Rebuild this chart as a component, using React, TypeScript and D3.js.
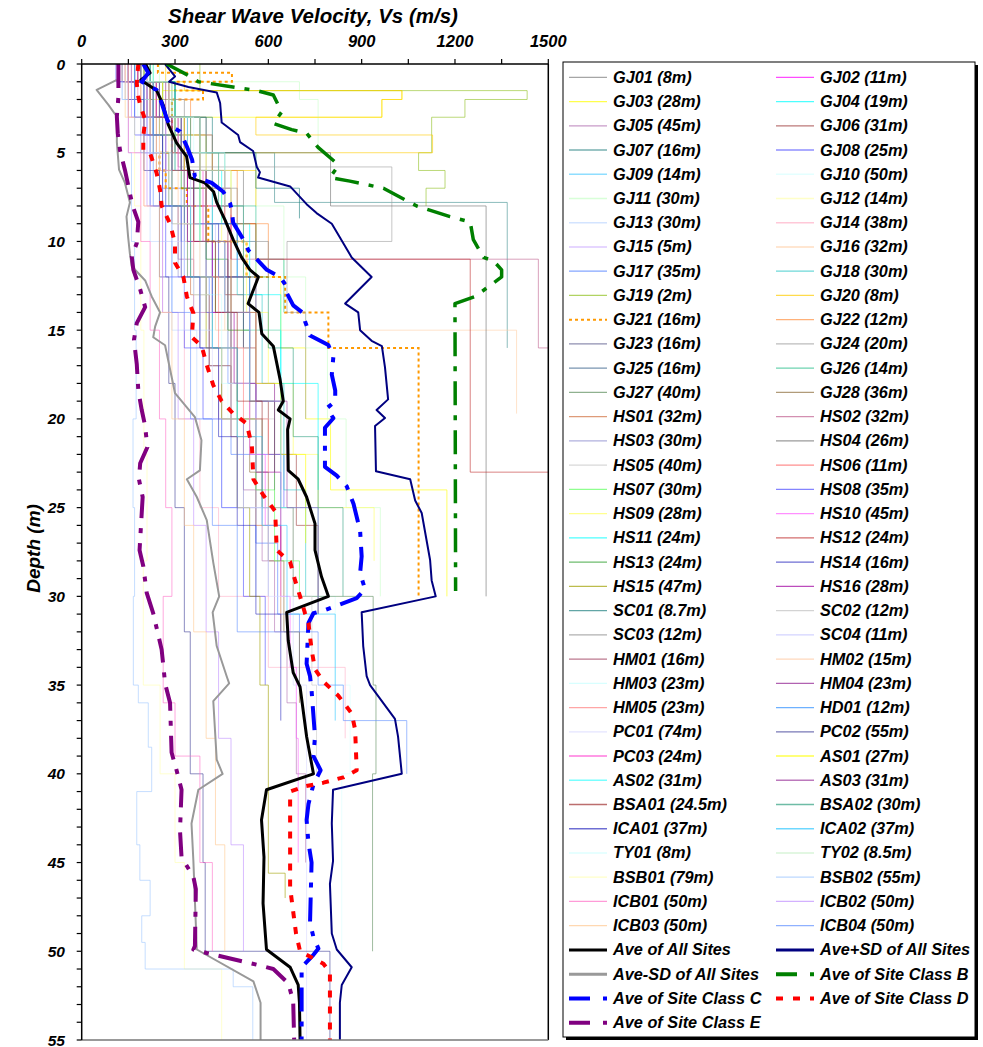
import React from "react";
import * as d3 from "d3";

// site names, in legend order (row by row, left column then right column)
const siteNames = [
  "GJ01 (8m)", "GJ02 (11m)", "GJ03 (28m)", "GJ04 (19m)", "GJ05 (45m)", "GJ06 (31m)",
  "GJ07 (16m)", "GJ08 (25m)", "GJ09 (14m)", "GJ10 (50m)", "GJ11 (30m)", "GJ12 (14m)",
  "GJ13 (30m)", "GJ14 (38m)", "GJ15 (5m)", "GJ16 (32m)", "GJ17 (35m)", "GJ18 (30m)",
  "GJ19 (2m)", "GJ20 (8m)", "GJ21 (16m)", "GJ22 (12m)", "GJ23 (16m)", "GJ24 (20m)",
  "GJ25 (16m)", "GJ26 (14m)", "GJ27 (40m)", "GJ28 (36m)", "HS01 (32m)", "HS02 (32m)",
  "HS03 (30m)", "HS04 (26m)", "HS05 (40m)", "HS06 (11m)", "HS07 (30m)", "HS08 (35m)",
  "HS09 (28m)", "HS10 (45m)", "HS11 (24m)", "HS12 (24m)", "HS13 (24m)", "HS14 (16m)",
  "HS15 (47m)", "HS16 (28m)", "SC01 (8.7m)", "SC02 (12m)", "SC03 (12m)", "SC04 (11m)",
  "HM01 (16m)", "HM02 (15m)", "HM03 (23m)", "HM04 (23m)", "HM05 (23m)", "HD01 (12m)",
  "PC01 (74m)", "PC02 (55m)", "PC03 (24m)", "AS01 (27m)", "AS02 (31m)", "AS03 (31m)",
  "BSA01 (24.5m)", "BSA02 (30m)", "ICA01 (37m)", "ICA02 (37m)", "TY01 (8m)", "TY02 (8.5m)",
  "BSB01 (79m)", "BSB02 (55m)", "ICB01 (50m)", "ICB02 (50m)", "ICB03 (50m)", "ICB04 (50m)",
];

const siteColors = [
  "#808080", "#ff00ff", "#ffff00", "#00ffff", "#b070b0", "#a04040",
  "#409090", "#6060ff", "#60d0ff", "#d8ffff", "#c8ffc8", "#ffffb0",
  "#c0d8ff", "#ffb0c8", "#d0b0ff", "#ffd0a8", "#5080ff", "#30c8c8",
  "#90c020", "#ffcc00", "#ff9900", "#ff9040", "#606090", "#a0a0a0",
  "#406890", "#30c090", "#609060", "#907040", "#d07040", "#c06090",
  "#9090d0", "#707070", "#c8c8c8", "#ff6060", "#60ff60", "#5050ff",
  "#ffff60", "#ff60ff", "#00ffff", "#c03030", "#30a030", "#3030c0",
  "#a0a000", "#a000a0", "#208080", "#c0c0c0", "#909090", "#c0c0ff",
  "#a04060", "#ffc8a0", "#c8ffff", "#902090", "#ff8080", "#3090ff",
  "#d8d8ff", "#404098", "#ff40d0", "#ffff00", "#40ffff", "#a040a0",
  "#a03030", "#30a080", "#3030c0", "#30c8ff", "#d0ffff", "#c8f0c8",
  "#ffffb0", "#a0c8ff", "#ff70c8", "#c090ff", "#ffc890", "#6090ff",
];

// each profile: [bottom depth (m), Vs (m/s)] per layer
const siteProfiles: number[][][] = [
  [[1, 160], [2, 220], [3, 260], [5, 300], [6, 420], [8, 520]],
  [[1, 140], [2, 180], [4, 230], [6, 290], [8, 340], [11, 480]],
  [[1, 190], [1.5, 260], [2, 1030], [3, 965], [4, 330], [6, 400], [9, 480], [12, 560], [16, 640], [20, 720], [24, 800], [28, 1174], [30, 1174]],
  [[2, 170], [4, 230], [6, 290], [9, 360], [12, 420], [15, 520], [19, 640]],
  [[1, 130], [3, 170], [5, 220], [8, 270], [11, 310], [14, 360], [17, 410], [20, 440], [24, 520], [28, 580], [32, 620], [36, 660], [40, 690], [45, 720]],
  [[1, 180], [3, 240], [5, 300], [7, 340], [10, 400], [13, 460], [16, 520], [19, 560], [22, 600], [26, 690], [31, 760]],
  [[1, 220], [3, 300], [5, 400], [7.8, 620], [16, 1368]],
  [[1, 110], [3, 150], [5, 200], [7, 260], [10, 320], [14, 400], [18, 470], [22, 560], [25, 650]],
  [[2, 200], [4, 260], [7, 330], [10, 420], [14, 560]],
  [[3, 180], [6, 250], [10, 320], [15, 380], [20, 470], [25, 560], [30, 640], [35, 815], [40, 863], [50, 836]],
  [[1, 250], [2, 700], [5, 760], [8, 560], [12, 650], [16, 720], [20, 790], [25, 850], [30, 960]],
  [[1, 150], [3, 210], [6, 280], [10, 380], [14, 520]],
  [[2, 130], [5, 170], [10, 220], [15, 290], [20, 370], [25, 450], [30, 560]],
  [[3, 140], [8, 200], [14, 260], [20, 330], [25, 380], [30, 440], [34, 600], [38, 847]],
  [[1, 200], [3, 260], [5, 340]],
  [[2, 180], [5, 250], [10, 330], [15, 430], [19.7, 1398]],
  [[1, 150], [4, 210], [8, 270], [12, 330], [17, 410], [22, 480], [27, 560], [31, 630], [35, 700]],
  [[1, 200], [3, 260], [6, 340], [9, 420], [13, 500], [18, 580], [24, 650], [30, 720]],
  [[1.5, 380], [2, 1432], [3, 1232], [5, 1125], [6, 1083], [7, 1168], [8, 1107]],
  [[1, 270], [1.5, 330], [2, 1029], [3, 965], [4, 560], [5, 1128], [6, 420], [8, 560]],
  [[0.5, 245], [1, 483], [1.5, 300], [2, 390], [5, 290], [6, 250], [7, 270], [8, 338], [10, 407], [12, 530], [14, 654], [16, 793], [30, 1083]],
  [[1, 200], [2, 280], [4, 350], [6, 420], [9, 500], [12, 600]],
  [[1, 160], [3, 230], [5, 260], [8, 330], [12, 400], [16, 480]],
  [[1, 180], [3, 250], [5.8, 310], [10, 997], [14, 660], [20, 720]],
  [[1, 150], [3, 200], [6, 260], [9, 330], [12, 420], [16, 520]],
  [[1, 220], [3, 300], [5, 380], [8, 460], [11, 560], [14, 650]],
  [[2, 170], [5, 230], [8, 280], [12, 340], [16, 420], [20, 500], [25, 580], [30, 680], [35, 937], [40, 946], [50, 935]],
  [[1, 180], [3, 240], [6, 300], [10, 360], [14, 430], [18, 480], [23, 540], [28, 600], [32, 650], [36, 700]],
  [[1, 130], [3, 190], [6, 240], [9, 290], [13, 350], [17, 410], [21, 480], [26, 560], [32, 640]],
  [[1, 170], [4, 230], [7, 330], [11, 480], [16, 1468], [32, 1600]],
  [[2, 140], [5, 190], [8, 250], [12, 310], [16, 380], [20, 450], [25, 520], [30, 600]],
  [[1, 200], [3, 280], [5, 400], [8, 800], [30, 1300]],
  [[1, 180], [4, 260], [8, 330], [12, 400], [16, 470], [20, 540], [25, 620], [30, 680], [35, 740], [40, 755]],
  [[1, 150], [3, 220], [5, 290], [8, 380], [11, 480]],
  [[1, 200], [3, 260], [6, 320], [10, 380], [14, 430], [18, 480], [20, 500], [24, 560], [28, 620], [30, 700]],
  [[1, 120], [4, 170], [8, 220], [12, 270], [16, 330], [20, 390], [25, 450], [30, 520], [35, 590]],
  [[2, 230], [4, 300], [7, 380], [10, 450], [14, 530], [18, 600], [22, 680], [25, 760], [28, 940]],
  [[1, 170], [3, 230], [6, 290], [10, 360], [14, 420], [18, 480], [22, 540], [26, 590], [30, 640], [34, 670], [38, 690], [45, 696]],
  [[1, 230], [3, 300], [6, 380], [9, 450], [13, 540], [18, 640], [24, 760]],
  [[1, 200], [3, 280], [6, 380], [9, 460], [11, 560], [23, 1249], [24, 1600]],
  [[1, 190], [4, 250], [7, 320], [11, 400], [15, 470], [19, 540], [24, 620]],
  [[1, 160], [3, 220], [6, 290], [9, 360], [12, 440], [16, 540]],
  [[1, 160], [4, 220], [8, 290], [12, 350], [16, 400], [20, 450], [25, 500], [30, 540], [35, 573], [45.6, 600], [47, 654]],
  [[1, 150], [3, 210], [6, 270], [10, 340], [14, 420], [18, 490], [23, 560], [28, 640]],
  [[1, 200], [3, 300], [5, 420], [7, 560], [8.7, 700]],
  [[1, 170], [3, 240], [5, 310], [8, 400], [12, 520]],
  [[1, 190], [2, 260], [4, 330], [7, 420], [10, 500], [12, 600]],
  [[1, 150], [3, 200], [6, 270], [9, 350], [11, 430]],
  [[1, 180], [3, 240], [6, 320], [9, 400], [12, 470], [16, 560]],
  [[1, 140], [3, 190], [6, 250], [9, 310], [12, 380], [15, 460]],
  [[2, 160], [5, 220], [9, 290], [13, 360], [18, 450], [23, 560]],
  [[1, 210], [3, 270], [6, 330], [10, 400], [14, 470], [18, 540], [23, 620]],
  [[1, 160], [4, 220], [8, 290], [12, 360], [16, 440], [20, 520], [23, 600]],
  [[1, 190], [3, 250], [6, 320], [9, 400], [12, 500]],
  [[2, 150], [5, 200], [10, 260], [15, 330], [20, 420], [25, 500], [30, 600], [35, 680], [45, 723], [55, 723]],
  [[2, 150], [6, 200], [12, 250], [18, 280], [25, 300], [32, 330], [40, 349], [45, 390], [50, 397], [55, 798]],
  [[1, 180], [3, 240], [6, 310], [10, 390], [14, 460], [19, 540], [24, 640]],
  [[1, 200], [3, 260], [6, 330], [10, 400], [14, 480], [18, 560], [22, 640], [27, 720]],
  [[1, 170], [3, 230], [6, 300], [10, 380], [14, 460], [19, 540], [25, 640], [31, 760]],
  [[1, 190], [3, 250], [6, 320], [10, 400], [14, 480], [19, 560], [25, 660], [31, 760]],
  [[1, 170], [3, 230], [6, 290], [10, 360], [14, 430], [19, 500], [24.5, 580]],
  [[1, 220], [3, 290], [5, 350], [8, 440], [12, 520], [16, 600], [21, 680], [25, 760], [30, 840]],
  [[1, 150], [4, 200], [8, 260], [12, 320], [16, 380], [21, 440], [26, 500], [31, 560], [37, 640]],
  [[1, 170], [4, 230], [8, 290], [12, 350], [16, 420], [21, 500], [26, 580], [31, 660], [35, 815], [37, 815]],
  [[1, 200], [3, 280], [5, 360], [8, 460]],
  [[1, 210], [3, 290], [6, 380], [8.5, 480]],
  [[3, 140], [8, 170], [15, 190], [22, 200], [28, 210], [35, 198], [40, 252], [45, 300], [51, 330], [55, 450]],
  [[2, 130], [5, 150], [10, 160], [15, 170], [20, 175], [25, 165], [30, 170], [35, 166], [36, 182], [38.5, 214], [41, 225], [44, 177], [46, 187], [48, 220], [49.5, 193], [51, 204], [52, 487], [55, 550]],
  [[5, 150], [10, 190], [15, 220], [20, 250], [25, 270], [30, 290], [36, 262], [39, 300], [45, 380], [50, 420]],
  [[3, 160], [8, 210], [14, 260], [20, 310], [26, 360], [32, 400], [38, 440], [44, 480], [50, 520]],
  [[3, 150], [8, 200], [14, 250], [20, 290], [26, 330], [32, 360], [38, 400], [44, 430], [50, 460]],
  [[3, 170], [8, 230], [14, 290], [20, 350], [26, 420], [32, 500], [35, 760], [37, 841], [40, 1045]],
];

// averaged profiles: [depth (m), Vs (m/s)]
const aveAll = [[0, 205], [0.5, 220], [0.9, 190], [1.5, 241], [2.3, 262], [3.4, 278], [4.45, 305], [5.2, 337], [6.4, 348], [6.7, 396], [7.2, 424], [7.8, 434], [8.8, 461], [9.9, 487], [10.9, 514], [11.6, 541], [12, 568], [13.5, 535], [14, 570], [15.2, 579], [15.9, 616], [17.8, 638], [19, 648], [19.5, 632], [20, 670], [20.6, 662], [22.9, 664], [23.4, 696], [24.4, 723], [25.9, 750], [27.4, 750], [28.9, 771], [30, 793], [30.9, 659], [32.5, 664], [34.3, 680], [35.1, 702], [37.9, 723], [40, 745], [40.9, 594], [42.6, 578], [44.7, 586], [47.3, 583], [49.9, 594], [50.9, 670], [51.9, 696], [52.9, 700], [55, 702]];
const avePlusSD = [[0, 268], [0.7, 300], [1, 281], [1.3, 343], [1.6, 434], [2.2, 445], [3.3, 450], [4, 503], [4.4, 509], [4.9, 551], [5.8, 563], [6.1, 573], [6.4, 567], [6.9, 670], [7.9, 723], [8.4, 755], [9, 804], [10.9, 868], [12, 932], [13.5, 847], [14, 889], [15, 895], [15.6, 932], [15.9, 965], [17.1, 975], [18.9, 985], [19.5, 948], [19.95, 975], [20.4, 943], [22.95, 946], [23.4, 1056], [24.6, 1072], [25.3, 1093], [27.95, 1120], [29.1, 1125], [30, 1138], [30.9, 900], [32.8, 905], [34.5, 916], [35, 927], [36.9, 1007], [37.9, 1017], [40, 1029], [40.9, 808], [42.8, 804], [44.9, 808], [46.2, 798], [49, 804], [49.9, 820], [50.9, 868], [51.9, 836], [52.9, 830], [55, 830]];
const aveMinusSD = [[0.9, 113], [1.46, 48], [2.3, 86], [2.97, 113], [4.4, 113], [5.95, 120], [6.7, 139], [7.8, 155], [8.6, 144], [9.7, 149], [10.7, 155], [11.4, 161], [12.2, 204], [13.1, 225], [14, 252], [14.8, 236], [15.4, 230], [15.85, 268], [18.55, 300], [19.9, 364], [21.2, 385], [22.9, 380], [23.4, 338], [24.4, 370], [25.7, 402], [28.1, 423], [30, 442], [30.9, 421], [32.8, 434], [34.5, 466], [34.9, 474], [35.9, 423], [39.2, 434], [40, 453], [40.9, 375], [42.8, 353], [44.9, 359], [49.9, 370], [51.7, 552], [52.9, 575], [55, 575]];
const aveClassB = [[0, 273], [0.6, 338], [1, 375], [1.5, 563], [1.75, 616], [2.7, 643], [3.35, 616], [3.7, 675], [3.9, 723], [4.7, 760], [5.6, 820], [5.85, 820], [6.4, 798], [6.6, 862], [7, 970], [8, 1077], [8.6, 1184], [8.9, 1249], [9.9, 1259], [10.9, 1292], [11.1, 1324], [11.6, 1350], [12, 1350], [13.1, 1265], [13.5, 1200], [29.7, 1202]];
const aveClassC = [[0, 198], [0.5, 214], [1, 193], [1.47, 241], [2.2, 257], [3.05, 273], [3.5, 285], [3.8, 316], [4.65, 338], [5.4, 355], [6.35, 364], [6.7, 418], [7.2, 455], [7.85, 477], [8.2, 482], [8.95, 487], [9.9, 520], [10.5, 536], [11.6, 595], [12, 638], [12.55, 659], [12.9, 659], [13.6, 680], [14.05, 713], [14.5, 718], [15.3, 734], [15.84, 793], [16.5, 809], [17.5, 804], [18.4, 815], [19, 815], [19.4, 788], [19.96, 809], [20.5, 782], [22.7, 782], [23.2, 820], [23.8, 852], [24.8, 874], [26.3, 895], [27.75, 900], [28.7, 895], [29.6, 911], [30.1, 884], [30.8, 777], [30.95, 745], [31.5, 729], [33.8, 723], [34.5, 734], [35.3, 739], [37.9, 750], [39, 745], [39.8, 768], [40.6, 745], [41.7, 729], [42.6, 723], [43.9, 729], [45, 739], [48.4, 734], [49.2, 745], [49.85, 761], [50.2, 745], [50.9, 707], [55, 707]];
const aveClassD = [[0, 182], [1.1, 177], [1.85, 182], [2.3, 188], [3.15, 204], [4.1, 198], [4.85, 198], [5.03, 220], [6.15, 241], [7.1, 252], [8, 257], [9, 284], [10.1, 300], [11.2, 300], [12, 327], [13.1, 338], [14.05, 359], [15.4, 354], [15.9, 386], [16.96, 402], [18.1, 423], [19, 450], [19.7, 487], [20.25, 530], [21.5, 547], [23.4, 552], [24.3, 584], [25.2, 622], [27.4, 627], [28.05, 670], [29.1, 686], [30, 702], [30.96, 718], [31.5, 729], [33, 739], [34.1, 750], [34.8, 777], [35.6, 825], [36.6, 868], [37.5, 879], [39.8, 884], [40.2, 841], [40.5, 777], [40.7, 718], [41, 670], [46.4, 670], [47.1, 675], [49, 689], [50, 702], [50.7, 777], [51.2, 798], [55, 798]];
const aveClassE = [[0, 118], [1.85, 118], [2.97, 113], [3.9, 116], [4.85, 123], [5.97, 139], [7.3, 155], [8, 164], [8.9, 182], [10.1, 177], [10.85, 161], [11.6, 166], [12.7, 188], [13.7, 204], [14.6, 177], [15.55, 168], [16.9, 177], [18.4, 182], [19.5, 193], [20.4, 204], [21.6, 211], [22.5, 188], [23.4, 184], [24.4, 196], [27.4, 186], [28.3, 198], [29.8, 209], [30.96, 230], [33, 257], [34, 263], [34.9, 268], [36, 284], [38.8, 289], [39.8, 305], [40.9, 321], [43.2, 316], [44.7, 321], [45.8, 359], [46.5, 367], [49.7, 364], [49.9, 359], [50.1, 402], [50.8, 573], [51, 616], [51.8, 664], [52.5, 675], [52.9, 680], [55, 683]];

const aveNames = [
  "Ave of All Sites", "Ave+SD of All Sites", "Ave-SD of All Sites", "Ave of Site Class B",
  "Ave of Site Class C", "Ave of Site Class D", "Ave of Site Class E",
];

const xTickValues = d3.range(0, 1501, 150);
const xLabelValues = [0, 300, 600, 900, 1200, 1500];
const yTickValues = d3.range(0, 56, 1);
const yLabelValues = [0, 5, 10, 15, 20, 25, 30, 35, 40, 45, 50, 55];

const FONT = "'Liberation Sans', Arial, sans-serif";

export default function App() {
  const width = 983;
  const height = 1047;
  const x = d3.scaleLinear().domain([0, 1500]).range([81.7, 548.3]);
  const y = d3.scaleLinear().domain([0, 55]).range([64, 1040]);

  const line = d3
    .line<number[]>()
    .x((p) => x(p[1]))
    .y((p) => y(p[0]));

  // turn a layer list into the corner points of a step profile
  const stepPoints = (prof: number[][]) => {
    const pts: number[][] = [];
    let top = 0;
    prof.forEach((layer) => {
      pts.push([top, layer[1]]);
      pts.push([layer[0], layer[1]]);
      top = layer[0];
    });
    return pts;
  };

  const aveStyles = [
    { data: aveAll, color: "#000000", w: 3, dash: "" },
    { data: avePlusSD, color: "#000080", w: 2, dash: "" },
    { data: aveMinusSD, color: "#999999", w: 2, dash: "" },
    { data: aveClassB, color: "#008000", w: 3.5, dash: "24,10,5,10" },
    { data: aveClassC, color: "#0000ff", w: 4, dash: "24,10,5,10" },
    { data: aveClassD, color: "#ff0000", w: 4, dash: "7,9" },
    { data: aveClassE, color: "#800080", w: 4, dash: "24,10,5,10" },
  ];

  const plot = { left: x(0), right: x(1500), top: y(0), bottom: y(55) };

  const legendItems = [
    ...siteNames.map((n, i) => ({
      name: n,
      color: siteColors[i],
      w: i === 20 ? 2 : 1.3,
      dash: i === 20 ? "3,3" : "",
    })),
    ...aveNames.map((n, i) => ({
      name: n,
      color: aveStyles[i].color,
      w: i < 3 ? 3 : 4,
      dash: i === 5 ? "7,10" : i >= 3 ? "21,13,4,13" : "",
    })),
  ];

  const lgX = 563;
  const lgY = 62;
  const lgW = 412;
  const lgH = 975;
  const rowH = 24.24;

  return (
    <svg
      width={width}
      height={height}
      style={{ position: "absolute", left: 0, top: 0, background: "#fff" }}
      fontFamily={FONT}
      fontWeight="bold"
      fontStyle="italic"
    >
      <defs>
        <clipPath id="plotClip">
          <rect x={plot.left} y={plot.top} width={plot.right - plot.left} height={plot.bottom - plot.top} />
        </clipPath>
      </defs>
      <rect x={0} y={0} width={width} height={height} fill="#fff" />

      {/* title */}
      <text x={313} y={23} fontSize={20.5} textAnchor="middle" fill="#000">
        Shear Wave Velocity, Vs (m/s)
      </text>
      <text
        transform={`translate(40, ${y(27.3)}) rotate(-90)`}
        fontSize={19}
        textAnchor="middle"
        fill="#000"
      >
        Depth (m)
      </text>

      {/* site profiles */}
      <g clipPath="url(#plotClip)">
        {siteProfiles.map((prof, i) => (
          <path
            key={i}
            d={line(stepPoints(prof)) || ""}
            fill="none"
            stroke={siteColors[i]}
            strokeWidth={i === 20 ? 2 : 1}
            strokeOpacity={i === 20 ? 1 : 0.6}
            strokeDasharray={i === 20 ? "3,3" : undefined}
          />
        ))}
        {aveStyles.map((s, i) => (
          <path
            key={"a" + i}
            d={line(s.data) || ""}
            fill="none"
            stroke={s.color}
            strokeWidth={s.w}
            strokeDasharray={s.dash || undefined}
            strokeLinejoin="round"
          />
        ))}
      </g>

      {/* frame */}
      <line x1={plot.right} x2={plot.right} y1={plot.top} y2={plot.bottom} stroke="#000" strokeWidth={1.5} />
      <line x1={plot.left} x2={plot.right} y1={plot.bottom} y2={plot.bottom} stroke="#777" strokeWidth={1.5} />
      <line x1={plot.left} x2={plot.right} y1={plot.top} y2={plot.top} stroke="#000" strokeWidth={1.5} />
      <line x1={plot.left} x2={plot.left} y1={plot.top} y2={plot.bottom} stroke="#000" strokeWidth={1.5} />

      {/* top axis */}
      {xTickValues.map((v) => (
        <line key={"xt" + v} x1={x(v)} x2={x(v)} y1={plot.top} y2={plot.top - 5} stroke="#000" strokeWidth={1.2} />
      ))}
      {xLabelValues.map((v) => (
        <text key={"xl" + v} x={x(v)} y={47} fontSize={16.5} textAnchor="middle" fill="#000">
          {v}
        </text>
      ))}

      {/* left axis */}
      {yTickValues.map((v) => (
        <line key={"yt" + v} x1={plot.left - 5} x2={plot.left} y1={y(v)} y2={y(v)} stroke="#000" strokeWidth={1.2} />
      ))}
      {yLabelValues.map((v) => (
        <text key={"yl" + v} x={65} y={y(v) + 5.5} fontSize={15.5} textAnchor="end" fill="#000">
          {v}
        </text>
      ))}

      {/* legend */}
      <rect x={lgX + 3} y={lgY + 3} width={lgW} height={lgH} fill="#000" />
      <rect x={lgX} y={lgY} width={lgW} height={lgH} fill="#fff" stroke="#000" strokeWidth={1} />
      {legendItems.map((it, i) => {
        const col = i % 2;
        const row = Math.floor(i / 2);
        const cy = 77.3 + row * rowH;
        const lx = col === 0 ? 569 : 776;
        return (
          <g key={"lg" + i}>
            <line
              x1={lx}
              x2={lx + 38}
              y1={cy}
              y2={cy}
              stroke={it.color}
              strokeWidth={it.w}
              strokeOpacity={i < 72 && i !== 20 ? 0.7 : 1}
              strokeDasharray={it.dash || undefined}
            />
            <text x={lx + 44} y={cy + 5.5} fontSize={16.3} fill="#000">
              {it.name}
            </text>
          </g>
        );
      })}
    </svg>
  );
}
